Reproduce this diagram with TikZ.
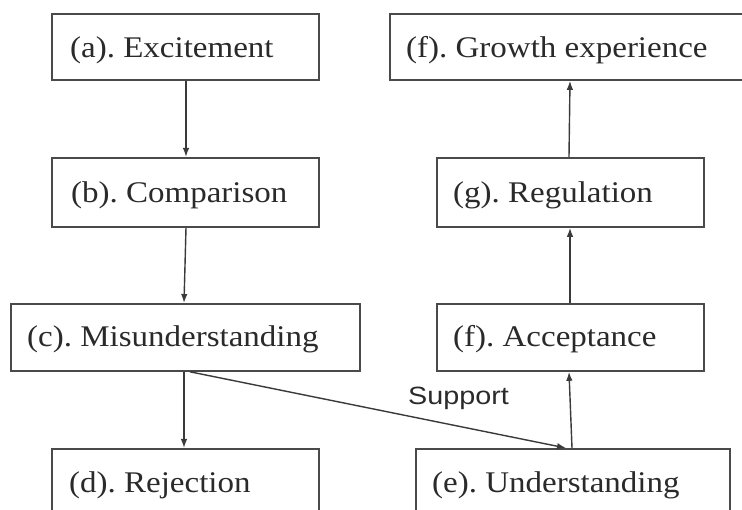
\documentclass[tikz,border=0pt]{standalone}
\usepackage{fontspec}
\setmainfont{Liberation Serif}
\newfontfamily\boxfont[FakeStretch=1.1]{Liberation Serif}
\newfontfamily\supfont[FakeStretch=1.15]{Liberation Sans}
\usetikzlibrary{arrows.meta,calc}
\definecolor{linec}{HTML}{3A3A3A}
\definecolor{boxc}{HTML}{4A4A4A}
\definecolor{textc}{HTML}{2A2A2A}
\frenchspacing
\begin{document}
\begin{tikzpicture}[x=1pt,y=-1pt,
  box/.style={draw=boxc, line width=1.8pt, rectangle, inner sep=0pt, anchor=north west},
  lbl/.style={anchor=base west, inner sep=0pt, text=textc, font=\frenchspacing\boxfont\fontsize{30}{34}\selectfont},
  sup/.style={anchor=base west, inner sep=0pt, text=textc, font=\supfont\fontsize{25}{29}\selectfont},
  arr/.style={draw=linec, line width=1.4pt, -{Latex[length=9pt,width=6.5pt]}}]
\clip (0,0) rectangle (742,510);
\fill[white] (0,0) rectangle (742,510);
% boxes
\node[box, minimum width=267pt, minimum height=66pt] (a) at (51,13) {};
\node[box, minimum width=267pt, minimum height=69pt] (b) at (51,157) {};
\node[box, minimum width=349pt, minimum height=67pt] (c) at (10,303) {};
\node[box, minimum width=267pt, minimum height=80pt] (d) at (51,448) {};
\node[box, minimum width=314pt, minimum height=80pt] (e) at (415,448) {};
\node[box, minimum width=267pt, minimum height=67pt] (acc) at (436,303) {};
\node[box, minimum width=267pt, minimum height=69pt] (g) at (436,157) {};
\node[box, minimum width=370pt, minimum height=66pt] (gr) at (389,13) {};
% texts
\node[lbl] (ta) at (70,58) {(a). Excitement};
\node[lbl] (tb) at (71,203) {(b). Comparison};
\node[lbl] (tc) at (27,347) {(c). Misunderstanding};
\node[lbl] (td) at (69,493) {(d). Rejection};
\node[lbl] (te) at (432,493) {(e). Understanding};
\node[lbl] (tacc) at (453,347) {(f). Acceptance};
\node[lbl] (tg) at (453,203) {(g). Regulation};
\node[lbl] (tgr) at (406,58) {(f). Growth experience};
\node[sup] (ts) at (408,405) {Support};
% connectors
\draw[arr] ([xshift=135pt]a.south west) -- ([xshift=135pt]b.north west);
\draw[arr] ([xshift=135pt]b.south west) -- ([xshift=174pt]c.north west);
\draw[arr] ([xshift=174pt]c.south west) -- ([xshift=133pt]d.north west);
\draw[arr] ([xshift=180pt]c.south west) -- ([xshift=151pt]e.north west);
\draw[arr] ([xshift=157pt]e.north west) -- ([xshift=133pt]acc.south west);
\draw[arr] ([xshift=134pt]acc.north west) -- ([xshift=134pt]g.south west);
\draw[arr] ([xshift=133pt]g.north west) -- ([xshift=181pt]gr.south west);
\end{tikzpicture}
\end{document}
